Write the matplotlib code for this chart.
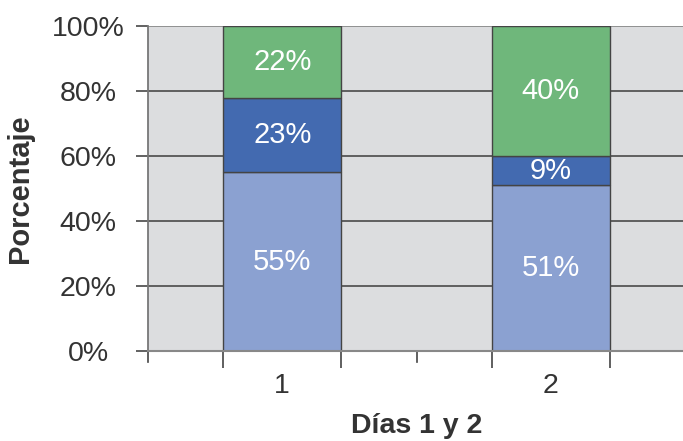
import matplotlib
matplotlib.use("Agg")
import matplotlib.pyplot as plt
import matplotlib.transforms as mtransforms
import numpy as np

plt.rcParams['font.family'] = ['Liberation Sans', 'DejaVu Sans']

# stacked shares per day (%)
days = ["1", "2"]
bottom_seg = [55, 51]
middle_seg = [23, 9]
top_seg = [22, 40]
y_ticks = [0, 20, 40, 60, 80, 100]

colors = ["#8ba1d1", "#436ab0", "#6fb77b"]
text_col = "#333333"
bar_w = 0.44

fig = plt.figure(figsize=(6.83, 4.41), dpi=100)
ax = fig.add_axes([148 / 683, 1 - 351 / 441, 537 / 683, 325 / 441])
ax.set_facecolor("#dcdddf")

x = np.arange(len(days))
ax.set_xlim(-0.5, len(days) - 0.5)
ax.set_ylim(0, 100)

# horizontal grid behind bars
for v in y_ticks[1:]:
    ax.axhline(v, color="#555555" if v < 100 else "#8a8a8a", lw=1.3, zorder=1)

base = np.zeros(len(days))
for seg, c in zip([bottom_seg, middle_seg, top_seg], colors):
    seg = np.array(seg, dtype=float)
    ax.bar(x, seg, bar_w, bottom=base, color=c, edgecolor="#444444",
           linewidth=1.0, zorder=2)
    for xi, b, h in zip(x, base, seg):
        ax.text(xi, b + h / 2, f"{int(h)}%", ha="center", va="center",
                color="white", fontsize=21, zorder=3)
    base += seg

# spines
for s in ["top", "right"]:
    ax.spines[s].set_visible(False)
ax.spines["left"].set_color("#777777")
ax.spines["bottom"].set_color("#888888")
ax.spines["left"].set_linewidth(1.3)
ax.spines["bottom"].set_linewidth(1.5)

# y axis
ax.set_yticks(y_ticks)
ax.set_yticklabels([f"{v}%" for v in y_ticks], ha="center")
ax.tick_params(axis="y", length=9, width=1.3, color="#555555",
               pad=34, labelsize=20.5, labelcolor=text_col)

# x axis: labels at centres, ticks at bar edges and category boundaries
ax.set_xticks(x)
ax.set_xticklabels(days)
ax.tick_params(axis="x", length=0, pad=16, labelsize=20.5, labelcolor=text_col)
edges = np.concatenate([x - bar_w / 2, x + bar_w / 2])
ax.set_xticks(edges, minor=True)
ax.tick_params(axis="x", which="minor", length=12, width=1.2, color="#444444")
trans = mtransforms.blended_transform_factory(ax.transData, ax.transAxes)
for b in np.arange(-0.5, len(days), 1.0):
    ax.plot([b, b], [0, -0.033], color="#444444", lw=1.2,
            transform=trans, clip_on=False)

ax.set_xlabel("Días 1 y 2", fontsize=20.5, fontweight="bold", color=text_col)
ax.xaxis.set_label_coords(0.5, -0.19)
ax.set_ylabel("Porcentaje", fontsize=21, fontweight="bold", color=text_col)
ax.yaxis.set_label_coords(-0.213, 0.5)

fig.savefig("out.png", dpi=100)
